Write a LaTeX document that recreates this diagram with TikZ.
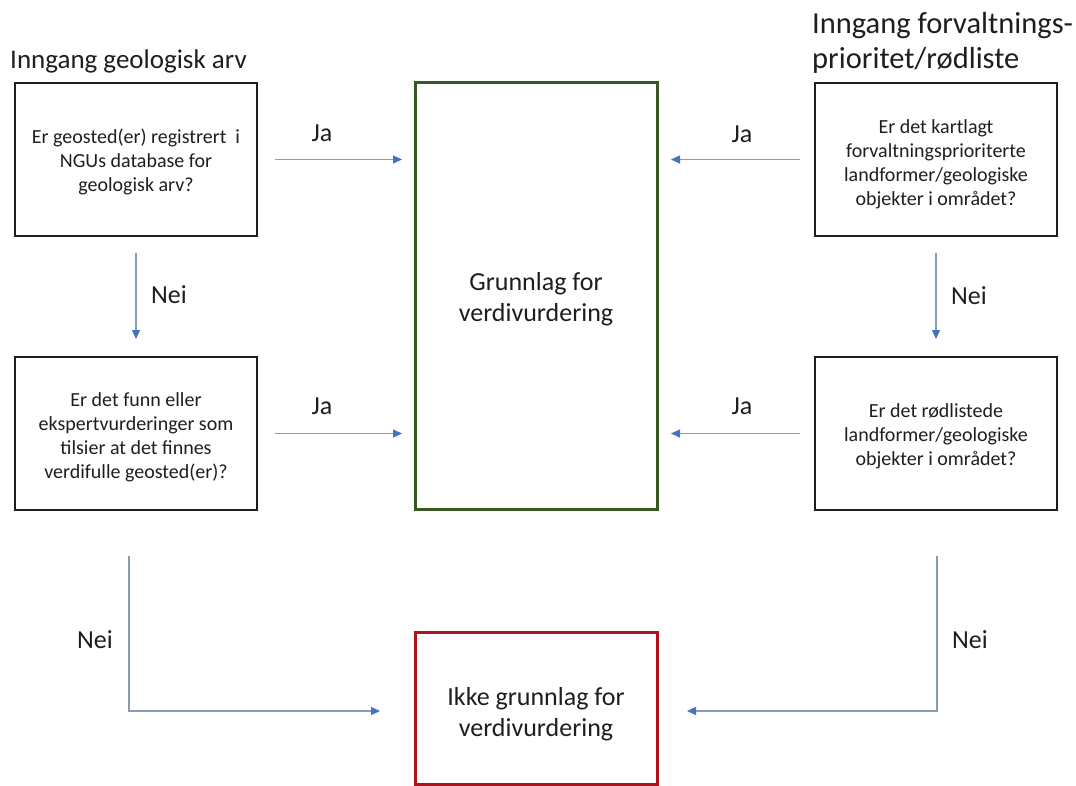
\documentclass[tikz,border=0pt]{standalone}
\usepackage{fontspec}
\setmainfont{Carlito}
\usetikzlibrary{arrows.meta,calc}
\definecolor{boxgreen}{HTML}{385723}
\definecolor{boxred}{HTML}{B0121B}
\definecolor{linegray}{HTML}{8C9CB8}
\definecolor{tipblue}{HTML}{4472C4}
\definecolor{ink}{HTML}{1E1E1E}
\tikzset{
  qbox/.style={draw=ink, line width=2pt, minimum width=242pt, minimum height=153pt,
    inner sep=0pt, outer sep=0pt, align=center, text=ink,
    font=\fontsize{20}{24}\selectfont},
  bigbox/.style={line width=3pt, inner sep=0pt, outer sep=0pt, align=center, text=ink,
    font=\fontsize{26}{31}\selectfont},
  title/.style={anchor=base west, inner sep=0pt, align=left, text=ink},
  lbl/.style={inner sep=0pt, text=ink, font=\fontsize{26}{30}\selectfont},
  flow/.style={draw=linegray, line width=1.3pt,
    -{Triangle[length=9pt,width=8pt,color=tipblue]}}
}
% centred text block lowered inside its box without changing the box size
\newcommand{\dropped}[2]{\raisebox{#1}[\height][\depth]{\parbox{236pt}{\centering #2}}}
\begin{document}
\begin{tikzpicture}[x=1pt,y=-1pt]
\useasboundingbox (0,0) rectangle (1076,785);

% entry headings
\node[title, font=\fontsize{27}{35}\selectfont] (tl) at (10,68) {Inngang geologisk arv};
\node[title, font=\fontsize{30.5}{35}\selectfont] (tr) at (812,68) {Inngang forvaltnings-\\prioritet/rødliste};

% question boxes
\node[qbox] (A) at (136,159.5) {\dropped{-2pt}{Er geosted(er) registrert\ \ i\\NGUs database for\\geologisk arv?}};
\node[qbox] (C) at (136,433.5) {\dropped{-4pt}{Er det funn eller\\ekspertvurderinger som\\tilsier at det finnes\\verdifulle geosted(er)?}};
\node[qbox] (B) at (936,159.5) {\dropped{-5pt}{Er det kartlagt\\forvaltningsprioriterte\\landformer/geologiske\\objekter i området?}};
\node[qbox] (D) at (936,433.5) {\dropped{-3pt}{Er det rødlistede\\landformer/geologiske\\objekter i området?}};

% outcome boxes
\node[bigbox, draw=boxgreen, minimum width=242pt, minimum height=427pt] (G) at (536,296)
  {\dropped{-3pt}{Grunnlag for\\verdivurdering}};
\node[bigbox, draw=boxred, minimum width=242pt, minimum height=152pt] (R) at (536,708)
  {\dropped{-6pt}{Ikke grunnlag for\\verdivurdering}};

% "Ja" connectors
\draw[flow, shorten <=18pt, shorten >=13pt] (A.east) -- (A.east -| G.west);
\draw[flow, shorten <=18pt, shorten >=13pt] (C.east) -- (C.east -| G.west);
\draw[flow, shorten <=15pt, shorten >=14pt] (B.west) -- (B.west -| G.east);
\draw[flow, shorten <=15pt, shorten >=14pt] (D.west) -- (D.west -| G.east);
\node[lbl] (ja1) at (322,133) {Ja};
\node[lbl] (ja2) at (322,406) {Ja};
\node[lbl] (ja3) at (742,134) {Ja};
\node[lbl] (ja4) at (742,406) {Ja};

% "Nei" connectors
\draw[flow, shorten <=17pt, shorten >=18pt] (A.south) -- (C.north);
\draw[flow, shorten <=17pt, shorten >=18pt] (B.south) -- (D.north);
\coordinate (cl) at ($(C.south)+(-7,46)$);
\coordinate (cr) at ($(D.south)+(1,46)$);
\draw[flow, shorten >=35pt] (cl) |- ($(R.west)+(0,3)$);
\draw[flow, shorten >=30pt] (cr) |- ($(R.east)+(0,3)$);
\node[lbl] (nei1) at (169,295) {Nei};
\node[lbl] (nei2) at (969,296) {Nei};
\node[lbl] (nei3) at (95,640) {Nei};
\node[lbl] (nei4) at (970,640) {Nei};
\end{tikzpicture}
\end{document}
